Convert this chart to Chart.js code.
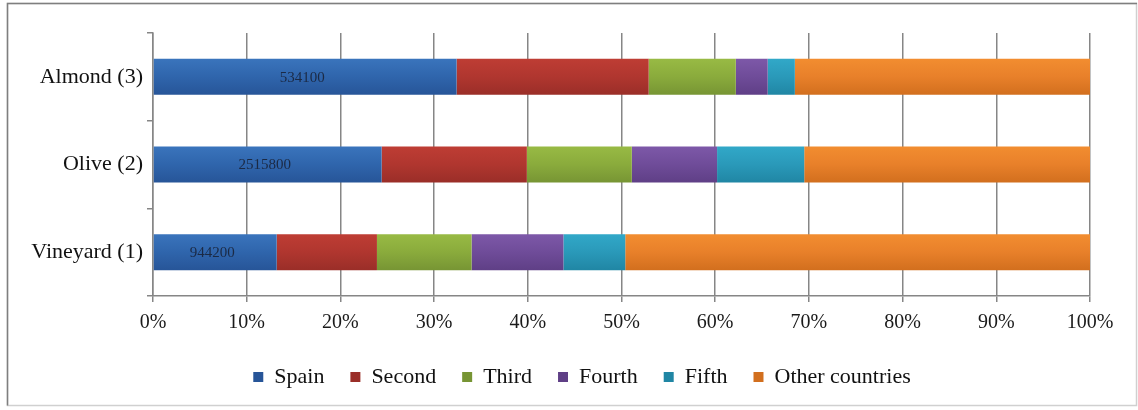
<!DOCTYPE html>
<html>
<head>
<meta charset="utf-8">
<script src="https://cdn.jsdelivr.net/npm/chart.js@4/dist/chart.umd.min.js"></script>
<style>
html,body{margin:0;padding:0;background:#fff;}
#wrap{width:1138px;height:410px;}
</style>
</head>
<body>
<div id="wrap"><canvas id="c" width="1138" height="410"></canvas></div>
<script>
// ---- data ----
const categories = ["Almond (3)", "Olive (2)", "Vineyard (1)"];
const seriesNames = ["Spain", "Second", "Third", "Fourth", "Fifth", "Other countries"];
const spain  = [32.4, 24.4, 13.2];
const second = [20.5, 15.5, 10.7];
const third  = [9.3, 11.2, 10.1];
const fourth = [3.4, 9.1, 9.8];
const fifth  = [2.9, 9.3, 6.6];
const other  = [31.5, 30.5, 49.6];
const spainLabels = ["534100", "2515800", "944200"];
const xTicks = ["0%","10%","20%","30%","40%","50%","60%","70%","80%","90%","100%"];

const palette = [
  ["#3A74BC", "#2F65AC", "#275598"],
  ["#BE3D34", "#B0362F", "#9A2E28"],
  ["#98BA44", "#8AAB3C", "#779534"],
  ["#7D58A8", "#6F4C99", "#5F3F86"],
  ["#31A8C8", "#2A99B9", "#2086A4"],
  ["#F28D30", "#E8802A", "#D26F1E"]
];

function grad(cols) {
  return function (ctx) {
    if (ctx.type !== 'data') return cols[1];
    const chart = ctx.chart;
    const ys = chart.scales && chart.scales.y;
    if (!ys) return cols[1];
    const c = ys.getPixelForValue(ctx.dataIndex);
    if (!isFinite(c)) return cols[1];
    const g = chart.ctx.createLinearGradient(0, c - 18, 0, c + 18);
    g.addColorStop(0, cols[0]);
    g.addColorStop(0.5, cols[1]);
    g.addColorStop(1, cols[2]);
    return g;
  };
}

const allSeries = [spain, second, third, fourth, fifth, other];
const datasets = allSeries.map((arr, i) => ({
  label: seriesNames[i],
  data: arr,
  backgroundColor: grad(palette[i]),
  borderWidth: 0,
  categoryPercentage: 1.0,
  barPercentage: 0.41
}));

const bgPlugin = {
  id: 'bg',
  beforeDraw(chart) {
    const c = chart.ctx;
    c.save();
    c.fillStyle = '#ffffff';
    c.fillRect(0, 0, chart.width, chart.height);
    c.lineWidth = 1.5;
    c.strokeStyle = '#d0d0d0';
    c.strokeRect(7.5, 3.5, 1129, 402);
    c.strokeStyle = '#7f7f7f';
    c.beginPath();
    c.moveTo(7.5, 405.5); c.lineTo(7.5, 3.5); c.lineTo(1137, 3.5);
    c.stroke();
    c.restore();
  }
};

const legendShift = {
  id: 'legendShift',
  afterLayout(chart) {
    if (chart.legend) { chart.legend.left += 33; chart.legend.right += 33; }
  }
};

const labelPlugin = {
  id: 'spainLabels',
  afterDatasetsDraw(chart) {
    const meta = chart.getDatasetMeta(0);
    const c = chart.ctx;
    c.save();
    c.font = '15px "Liberation Serif", "Times New Roman", serif';
    c.fillStyle = '#1b2a45';
    c.textAlign = 'center';
    c.textBaseline = 'middle';
    meta.data.forEach((el, i) => {
      const p = el.getCenterPoint();
      c.fillText(spainLabels[i], p.x - 3, p.y + 1);
    });
    c.restore();
  }
};

new Chart(document.getElementById('c'), {
  type: 'bar',
  data: { labels: categories, datasets: datasets },
  options: {
    indexAxis: 'y',
    responsive: false,
    animation: false,
    devicePixelRatio: 1,
    layout: { padding: { left: 8, top: 33, right: 48, bottom: 12 } },
    scales: {
      x: {
        stacked: true,
        min: 0, max: 100,
        afterFit(s) { s.height = 44; },
        ticks: {
          stepSize: 10,
          padding: 9,
          color: '#1a1a1a',
          font: { family: '"Liberation Serif", "Times New Roman", serif', size: 20 },
          callback: (v, i) => xTicks[i]
        },
        grid: { color: '#868686', lineWidth: 1.5, drawTicks: true, tickLength: 6, tickColor: '#868686' },
        border: { display: true, color: '#868686', width: 1.5 }
      },
      y: {
        stacked: true,
        afterFit(s) { s.width = 145; },
        ticks: {
          padding: 4,
          color: '#111',
          font: { family: '"Liberation Serif", "Times New Roman", serif', size: 22 }
        },
        grid: { drawOnChartArea: false, drawTicks: true, tickLength: 6, color: '#868686', tickColor: '#868686', lineWidth: 1.5, offset: true },
        border: { display: true, color: '#868686', width: 1.5 }
      }
    },
    plugins: {
      legend: {
        position: 'bottom',
        labels: {
          boxWidth: 10, boxHeight: 10,
          padding: 26,
          color: '#111',
          font: { family: '"Liberation Serif", "Times New Roman", serif', size: 22 }
        }
      },
      tooltip: { enabled: false }
    }
  },
  plugins: [bgPlugin, legendShift, labelPlugin]
});
</script>
</body>
</html>
